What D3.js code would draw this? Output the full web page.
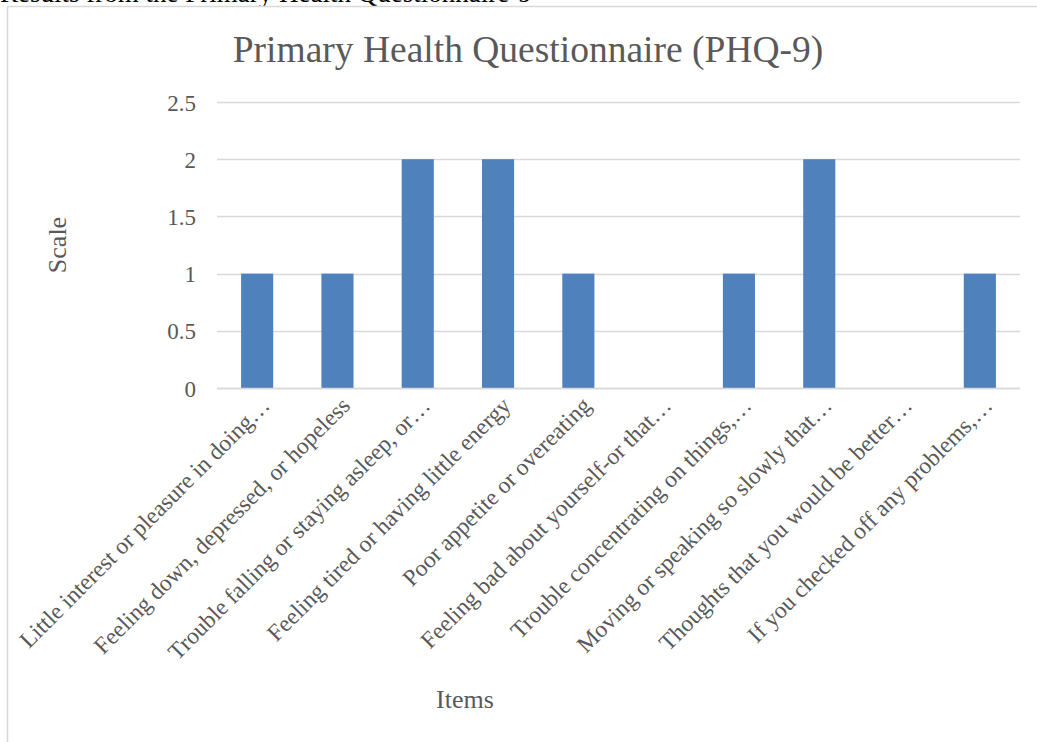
<!DOCTYPE html>
<html>
<head>
<meta charset="utf-8">
<script src="https://cdn.jsdelivr.net/npm/d3@7"></script>
<style>
  html, body { margin: 0; padding: 0; background: #fff; }
  svg { display: block; }
  svg text { font-family: "Liberation Serif", "Times New Roman", serif; }
</style>
</head>
<body>
<svg id="chart" width="1037" height="742"></svg>
<script>
const categories = [
  "Little interest or pleasure in doing…",
  "Feeling down, depressed, or hopeless",
  "Trouble falling or staying asleep, or…",
  "Feeling tired or having little energy",
  "Poor appetite or overeating",
  "Feeling bad about yourself-or that…",
  "Trouble concentrating on things,…",
  "Moving or speaking so slowly that…",
  "Thoughts that you would be better…",
  "If you checked off any problems,…"
];
const values = [1, 1, 2, 2, 1, 0, 1, 2, 0, 1];
const yTicks = [0, 0.5, 1, 1.5, 2, 2.5];
const yTickLabels = ["0", "0.5", "1", "1.5", "2", "2.5"];
const titleText = "Primary Health Questionnaire (PHQ-9)";
const xTitle = "Items";
const yTitle = "Scale";
const captionText = "Results from the Primary Health Questionnaire-9";

const svg = d3.select("#chart");
const W = 1037, H = 742;
const FONT = "'Liberation Serif', 'Times New Roman', serif";
const gridColor = "#d9d9d9", textColor = "#595959", barColor = "#4f81bd";

// caption cut at top
svg.append("text").attr("x", 0).attr("y", 2).attr("font-size", 27).attr("fill", "#000").style("font-family", FONT).text(captionText);

// chart frame
svg.append("rect").attr("x", 7.5).attr("y", 6.5).attr("width", W).attr("height", H).attr("fill", "#fff").attr("stroke", gridColor).attr("stroke-width", 1.5);

const x = d3.scaleBand().domain(categories).range([217, 1020]).paddingInner(0.6).paddingOuter(0.3);
const y = d3.scaleLinear().domain([0, 2.5]).range([388, 102]);

// gridlines
svg.append("g").selectAll("line").data(yTicks).join("line")
  .attr("x1", 217).attr("x2", 1020)
  .attr("y1", d => Math.round(y(d)) + 0.5).attr("y2", d => Math.round(y(d)) + 0.5)
  .attr("stroke", gridColor).attr("stroke-width", 1.5);

// y axis labels
const yAxis = d3.axisLeft(y).tickValues(yTicks).tickFormat((d, i) => yTickLabels[i]).tickSize(0).tickPadding(0);
const gy = svg.append("g").attr("transform", "translate(196,0)").call(yAxis);
gy.attr("font-family", null).attr("font-size", null);
gy.select(".domain").remove();
gy.selectAll("text").attr("font-size", 23).attr("fill", textColor).style("font-family", FONT).attr("dy", "0.35em");

// bars
svg.append("g").selectAll("rect").data(values).join("rect")
  .attr("x", (d, i) => x(categories[i]))
  .attr("width", x.bandwidth())
  .attr("y", d => y(d))
  .attr("height", d => y(0) - y(d))
  .attr("fill", barColor);

// x axis line
svg.append("line").attr("x1", 217).attr("x2", 1020).attr("y1", 388.5).attr("y2", 388.5).attr("stroke", gridColor).attr("stroke-width", 1.5);

// x labels rotated
const xAxis = d3.axisBottom(x).tickSize(0).tickPadding(0);
const gx = svg.append("g").attr("transform", "translate(0,388)").call(xAxis);
gx.attr("font-family", null).attr("font-size", null);
gx.select(".domain").remove();
gx.selectAll("text")
  .attr("font-size", 23.5).attr("fill", textColor).style("font-family", FONT)
  .attr("text-anchor", "end")
  .attr("dy", null).attr("y", 0)
  .attr("transform", "translate(14,19) rotate(-45)");

// titles
svg.append("text").attr("x", 528).attr("y", 62).attr("text-anchor", "middle").attr("font-size", 37.5).attr("fill", textColor).style("font-family", FONT).text(titleText);
svg.append("text").attr("transform", "translate(66,245) rotate(-90)").attr("text-anchor", "middle").attr("font-size", 26).attr("fill", textColor).style("font-family", FONT).text(yTitle);
svg.append("text").attr("x", 465).attr("y", 708).attr("text-anchor", "middle").attr("font-size", 26).attr("fill", textColor).style("font-family", FONT).text(xTitle);
</script>
</body>
</html>
